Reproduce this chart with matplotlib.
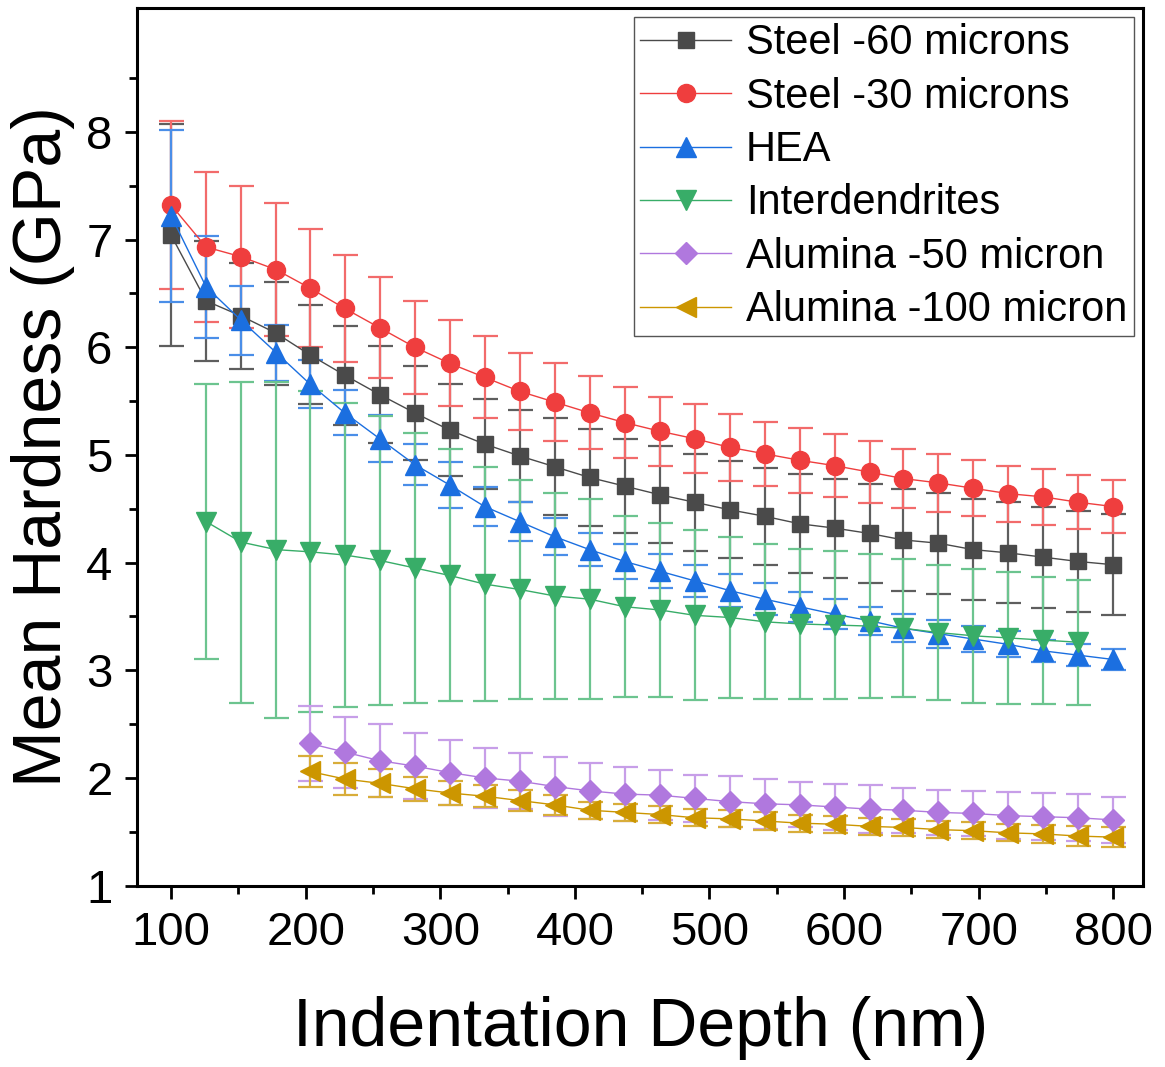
import numpy as np
import matplotlib.pyplot as plt

plt.rcParams['font.family'] = ['Liberation Sans', 'DejaVu Sans']

# Profundidad de indentacion (nm)
depth = [100, 126, 152, 178, 203, 229, 255, 281, 307, 333, 359, 385, 411, 437,
         463, 489, 515, 541, 567, 593, 619, 644, 670, 696, 722, 748, 774, 800]

steel60 = [7.04, 6.43, 6.29, 6.13, 5.93, 5.74, 5.56, 5.39, 5.23, 5.10, 4.99, 4.89,
           4.79, 4.71, 4.63, 4.56, 4.49, 4.43, 4.36, 4.32, 4.27, 4.21, 4.18, 4.12,
           4.09, 4.05, 4.01, 3.98]
steel60_err = [1.03, 0.56, 0.49, 0.48, 0.46, 0.46, 0.45, 0.44, 0.43, 0.42, 0.43, 0.45,
               0.45, 0.44, 0.45, 0.45, 0.45, 0.45, 0.46, 0.46, 0.46, 0.47, 0.47, 0.47,
               0.47, 0.47, 0.47, 0.47]

steel30 = [7.32, 6.93, 6.84, 6.72, 6.55, 6.36, 6.18, 6.00, 5.85, 5.72, 5.59, 5.49,
           5.39, 5.30, 5.22, 5.15, 5.07, 5.01, 4.95, 4.90, 4.84, 4.78, 4.74, 4.69,
           4.64, 4.61, 4.56, 4.52]
steel30_err = [0.78, 0.70, 0.66, 0.62, 0.55, 0.50, 0.47, 0.43, 0.40, 0.38, 0.36, 0.36,
               0.34, 0.33, 0.32, 0.32, 0.31, 0.30, 0.30, 0.29, 0.29, 0.27, 0.27, 0.26,
               0.26, 0.26, 0.25, 0.25]

hea = [7.22, 6.56, 6.25, 5.95, 5.66, 5.39, 5.15, 4.91, 4.72, 4.52, 4.38, 4.24,
       4.12, 4.01, 3.92, 3.83, 3.74, 3.66, 3.59, 3.52, 3.46, 3.39, 3.34, 3.29,
       3.24, 3.18, 3.14, 3.10]
hea_err = [0.80, 0.47, 0.32, 0.26, 0.22, 0.21, 0.22, 0.19, 0.21, 0.18, 0.18, 0.17,
           0.15, 0.16, 0.16, 0.15, 0.15, 0.15, 0.14, 0.14, 0.13, 0.13, 0.13, 0.12,
           0.12, 0.10, 0.10, 0.10]

# Interdendritas: de 126 a 774 nm
inter_depth = depth[1:27]
inter = [4.38, 4.19, 4.12, 4.10, 4.07, 4.02, 3.95, 3.88, 3.80, 3.75, 3.69, 3.66,
         3.59, 3.56, 3.51, 3.49, 3.45, 3.43, 3.42, 3.41, 3.39, 3.35, 3.32, 3.30,
         3.28, 3.26]
inter_err = [1.28, 1.49, 1.56, 1.49, 1.41, 1.34, 1.25, 1.17, 1.09, 1.02, 0.96, 0.93,
             0.84, 0.81, 0.79, 0.75, 0.72, 0.70, 0.69, 0.67, 0.64, 0.63, 0.62, 0.61,
             0.59, 0.58]

# Alumina: de 203 a 800 nm
alu_depth = depth[4:]
alu50 = [2.32, 2.24, 2.16, 2.11, 2.05, 2.00, 1.97, 1.92, 1.88, 1.85, 1.84, 1.81,
         1.78, 1.76, 1.75, 1.73, 1.71, 1.70, 1.68, 1.67, 1.65, 1.64, 1.63, 1.61]
alu50_err = [0.35, 0.33, 0.34, 0.31, 0.30, 0.28, 0.26, 0.27, 0.26, 0.25, 0.23, 0.22,
             0.24, 0.23, 0.21, 0.21, 0.22, 0.21, 0.21, 0.21, 0.22, 0.22, 0.22, 0.21]

alu100 = [2.06, 1.99, 1.95, 1.90, 1.86, 1.83, 1.79, 1.75, 1.70, 1.68, 1.66, 1.63,
          1.62, 1.60, 1.58, 1.57, 1.55, 1.54, 1.52, 1.51, 1.49, 1.48, 1.46, 1.45]
alu100_err = [0.14, 0.15, 0.13, 0.11, 0.11, 0.10, 0.10, 0.09, 0.08, 0.08, 0.08, 0.08,
              0.08, 0.08, 0.08, 0.08, 0.08, 0.08, 0.08, 0.08, 0.08, 0.08, 0.09, 0.09]

series = [
    (depth, steel60, steel60_err, 'Steel -60 microns', 's', '#4a4a4a', '#5e5e5e', 12),
    (depth, steel30, steel30_err, 'Steel -30 microns', 'o', '#ef3e3e', '#f26b6b', 13),
    (depth, hea, hea_err, 'HEA', '^', '#1b6fe0', '#4a8ee8', 14),
    (inter_depth, inter, inter_err, 'Interdendrites', 'v', '#38ad68', '#6cc48f', 14),
    (alu_depth, alu50, alu50_err, 'Alumina -50 micron', 'D', '#b078de', '#c79ee8', 11),
    (alu_depth, alu100, alu100_err, 'Alumina -100 micron', '<', '#cc9600', '#d8ad3a', 14),
]

fig = plt.figure(figsize=(11.65, 10.67), dpi=100)
ax = fig.add_axes([0.118, 0.17, 0.863, 0.8225])

for x, y, e, lab, m, c, ec, ms in series:
    ax.errorbar(x, y, yerr=e, label=lab, marker=m, color=c, ecolor=ec,
                markersize=ms, linewidth=1.0, elinewidth=1.6, capsize=9,
                capthick=1.6, markeredgecolor=c)

ax.set_xlim(75, 822)
ax.set_ylim(1, 9.15)
ax.set_xticks(np.arange(100, 801, 100))
ax.set_xticks(np.arange(150, 800, 100), minor=True)
ax.set_yticks(np.arange(1, 9, 1))
ax.set_yticks(np.arange(1.5, 9, 1), minor=True)
ax.tick_params(axis='both', which='major', direction='out', length=9, width=2,
               labelsize=34, pad=9, top=False, right=False)
ax.tick_params(axis='both', which='minor', direction='out', length=6, width=2,
               top=False, right=False)
for s in ax.spines.values():
    s.set_linewidth(2.2)

ax.set_xlabel('Indentation Depth (nm)', fontsize=49, labelpad=30)
ax.set_ylabel('Mean Hardness (GPa)', fontsize=49, labelpad=8)

# leyenda solo con linea y marcador
handles, labels = ax.get_legend_handles_labels()
handles = [h[0] for h in handles]
leg = ax.legend(handles, labels, loc='upper right', fontsize=30, handlelength=2.2,
                labelspacing=0.32, borderpad=0.15, handletextpad=0.35,
                fancybox=False, framealpha=1, borderaxespad=0.22)
leg.get_frame().set_edgecolor('#555555')
leg.get_frame().set_linewidth(1.0)

plt.savefig('out.png')
